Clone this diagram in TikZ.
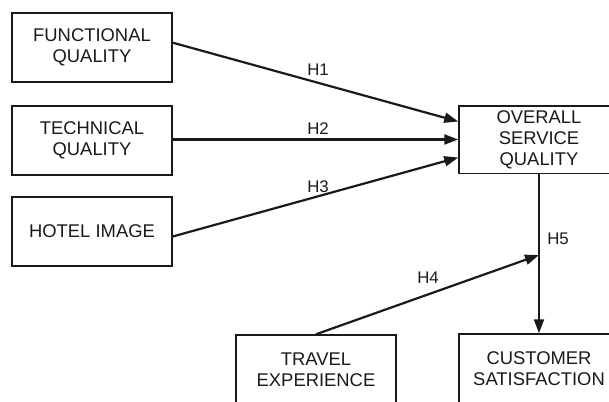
\documentclass[tikz,border=0pt]{standalone}
\usepackage{fontspec}
\setmainfont{Liberation Sans}
\usetikzlibrary{arrows.meta}
\definecolor{ink}{HTML}{1A1A1A}
\begin{document}
\begin{tikzpicture}[x=1pt,y=-1pt,
  box/.style={draw=ink, line width=1.5pt, minimum width=160pt, minimum height=69pt,
    inner sep=0pt, align=center, text=ink, font=\fontsize{18.4}{21}\selectfont},
  link/.style={draw=ink, line width=2.2pt, -{Triangle[length=14pt,width=10pt]}},
  lab/.style={text=ink, font=\fontsize{16.8}{18}\selectfont, inner sep=0pt}]
\clip (0,0) rectangle (609,401);
\fill[white] (0,0) rectangle (609,401);
\node[box] (fq) at (92,47.3) {FUNCTIONAL\\QUALITY};
\node[box] (tq) at (92,140.5) {TECHNICAL\\QUALITY};
\node[box] (hi) at (92,231.5) {HOTEL IMAGE};
\node[box, minimum height=67.5pt] (osq) at (539,139.5) {OVERALL\\SERVICE\\QUALITY};
\node[box, minimum height=70pt] (te) at (316,370) {TRAVEL\\EXPERIENCE};
\node[box, minimum height=70pt] (cs) at (539,369) {CUSTOMER\\SATISFACTION};
\coordinate (h5mid) at (539,255);
\draw[link] ([yshift=4.6pt]fq.east) -- ([yshift=18pt]osq.west);
\draw[link] (tq.east |- osq.west) -- (osq.west);
\draw[link] ([yshift=-5pt]hi.east) -- ([yshift=-18pt]osq.west);
\draw[link] (osq.south) -- (cs.north);
\draw[link] (te.north) -- (h5mid);
\node[lab] (l1) at (318,70) {H1};
\node[lab] (l2) at (318,129) {H2};
\node[lab] (l3) at (318,187) {H3};
\node[lab] (l4) at (428,278) {H4};
\node[lab] (l5) at (558,239) {H5};
\end{tikzpicture}
\end{document}
